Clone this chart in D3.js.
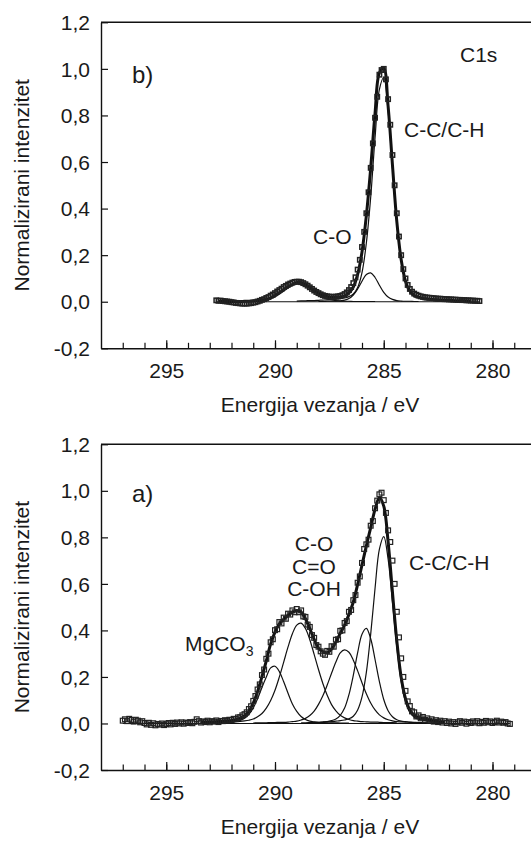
<!DOCTYPE html>
<html><head><meta charset="utf-8">
<script src="https://cdn.jsdelivr.net/npm/d3@7"></script>
<style>
body{margin:0;background:#fff}
svg{display:block}
text{font-family:"Liberation Sans",Arial,Helvetica,sans-serif;fill:#1a1a1a}
</style>
</head><body>
<svg id="chart" width="531" height="842"></svg>
<script>
// ---------- axis values ----------
const xDomain = [298, 278];
const xMinorTicks = [297,296,295,294,293,292,291,290,289,288,287,286,285,284,283,282,281,280,279];
const xTickValues = [295, 290, 285, 280];
const xTickLabels = ["295", "290", "285", "280"];
const yDomain = [-0.2, 1.2];
const yTickValues = [-0.2, 0, 0.2, 0.4, 0.6, 0.8, 1.0, 1.2];
const yTickLabels = ["-0,2", "0,0", "0,2", "0,4", "0,6", "0,8", "1,0", "1,2"];
const xTitle = "Energija vezanja / eV";
const yTitle = "Normalizirani intenzitet";

// ---------- panel b (top): measured points, 0.1 eV step from 292.7 eV ----------
const dataStep = 0.1;
const topDataStart = 292.7;
const topData = [
 .006,.004,.005,.003,.002,.001,.000,-.002,-.003,-.005,
 -.006,-.007,-.008,-.008,-.008,-.007,-.006,-.004,-.002,.001,
 .004,.008,.011,.016,.020,.026,.031,.037,.044,.050,
 .056,.063,.068,.074,.078,.082,.085,.086,.086,.084,
 .080,.075,.069,.062,.055,.048,.042,.037,.032,.028,
 .025,.023,.022,.021,.021,.022,.023,.025,.028,.033,
 .040,.050,.063,.080,.105,.138,.180,.235,.300,.380,
 .470,.575,.680,.790,.880,.975,.995,1.000,.955,.870,
 .760,.630,.500,.380,.280,.200,.140,.100,.072,.055,
 .043,.035,.030,.026,.023,.021,.019,.018,.017,.016,
 .015,.014,.013,.013,.012,.011,.011,.010,.010,.009,
 .009,.008,.008,.007,.007,.006,.006,.005,.005,.004,
 .004,.003];

// fitted components of panel b, 0.2 eV step
const compStep = 0.2;
const topCompNames = ["C-C/C-H", "C-C/C-H 2", "C-O"];
const topCompStarts = [289.0, 288.0, 292.6];
const topCompCC = [
 .003,.004,.004,.005,.005,.006,.007,.008,.009,.011,
 .013,.016,.022,.033,.061,.125,.252,.449,.704,.912,
 .963,.820,.578,.340,.178,.086,.044,.026,.019,.014,
 .012,.010,.008,.007,.007,.006,.005,.004,.004,.004,.003];
const topCompCC2 = [
 .001,.001,.002,.002,.003,.004,.007,.014,.029,.055,
 .088,.117,.124,.104,.071,.040,.020,.010,.005,.003,
 .002,.002,.001,.001];
const topCompCO = [
 .001,.001,.001,.001,.001,.001,.002,.002,.003,.004,
 .006,.010,.017,.025,.037,.050,.063,.074,.080,.078,
 .069,.057,.043,.031,.020,.013,.008,.005,.003,.002,
 .002,.001,.001,.001,.001,.001,.001];

// ---------- panel a (bottom): measured points, 0.1 eV step from 297.0 eV ----------
const bottomDataStart = 297.0;
const bottomData = [
 .012,.018,.010,.020,.015,.008,.016,.012,.005,.010,
 .002,-.004,.003,-.006,.001,-.008,-.002,-.005,.000,-.007,
 -.003,.002,-.004,.003,-.002,.004,.000,.005,-.001,.004,
 .002,.006,.001,.007,.018,.010,.004,.009,.006,.012,
 .005,.010,.008,.013,.006,.011,.010,.014,.012,.016,
 .015,.020,.019,.026,.027,.035,.040,.048,.062,.074,
 .097,.118,.146,.168,.208,.232,.278,.300,.349,.362,
 .401,.405,.436,.430,.455,.450,.472,.468,.486,.478,
 .492,.478,.486,.460,.458,.425,.415,.380,.368,.337,
 .330,.310,.300,.295,.312,.308,.332,.330,.360,.362,
 .398,.400,.432,.440,.480,.488,.530,.552,.605,.632,
 .690,.750,.770,.790,.850,.870,.925,.958,.985,.992,
 .960,.905,.830,.780,.700,.600,.480,.370,.280,.200,
 .140,.095,.075,.052,.048,.030,.035,.022,.028,.015,
 .022,.012,.018,.008,.014,.006,.012,.004,.010,.002,
 .008,.000,.006,-.002,.005,.010,.003,.008,-.001,.006,
 .002,.009,.004,.010,.001,.007,.003,.011,.005,.009,
 .002,.006,.012,.004,.008,.003,.006,.000,-.002];

// fitted components of panel a, 0.2 eV step
const bottomCompNames = ["MgCO3", "C-O / C=O / C-OH", "C-O 2", "C-C/C-H 2", "C-C/C-H"];
const bottomCompStarts = [293.4, 293.4, 291.0, 288.8, 287.8];
const bottomCompMg = [
 .002,.002,.002,.003,.003,.004,.005,.006,.008,.013,
 .022,.039,.067,.106,.155,.200,.239,.246,.223,.179,
 .130,.084,.052,.030,.017,.010,.007,.005,.004,.003,
 .003,.003,.002,.002,.002];
const bottomCompCO = [
 .003,.004,.004,.004,.005,.005,.006,.007,.008,.009,
 .011,.014,.019,.029,.043,.066,.099,.143,.200,.264,
 .329,.386,.423,.431,.408,.360,.297,.232,.172,.121,
 .081,.054,.035,.024,.017,.012,.010,.008,.007,.006,
 .006,.005,.004,.004,.004,.003];
const bottomCompCO2 = [
 .002,.003,.003,.003,.004,.004,.005,.005,.006,.008,
 .010,.015,.022,.034,.053,.082,.119,.165,.216,.264,
 .303,.316,.306,.272,.226,.175,.128,.088,.058,.037,
 .024,.016,.011,.008,.007,.006,.005,.004,.004,.003,
 .003,.003,.002];
const bottomCompCC2 = [
 .003,.003,.004,.005,.005,.007,.008,.012,.019,.035,
 .066,.124,.207,.304,.384,.409,.364,.275,.180,.103,
 .055,.029,.016,.010,.008,.006,.005,.004,.004,.003];
const bottomCompCC = [
 .006,.007,.008,.010,.012,.015,.020,.031,.058,.114,
 .220,.384,.581,.749,.803,.707,.521,.329,.182,.093,
 .047,.027,.018,.014,.011,.009,.008,.007,.006];

// ---------- helpers ----------
function series(start, step, values) {
  return values.map((v, i) => ({ e: +(start - i * step).toFixed(2), v }));
}
function envelope(comps) {
  const m = new Map();
  comps.forEach(c => c.forEach(p => {
    const k = Math.round(p.e * 10);
    m.set(k, (m.get(k) || 0) + p.v);
  }));
  return Array.from(m, ([k, v]) => ({ e: k / 10, v })).sort((a, b) => b.e - a.e);
}

const svg = d3.select("#chart");
svg.append("rect").attr("width", 531).attr("height", 842).attr("fill", "#fff");
const FONT = "'Liberation Sans', Arial, Helvetica, sans-serif";
const x = d3.scaleLinear().domain(xDomain).range([101, 536]);

function drawPanel(cfg) {
  const y = d3.scaleLinear().domain(yDomain).range(cfg.yRange);
  const g = svg.append("g");
  const yBottom = cfg.yRange[0], yTop = cfg.yRange[1];

  const comps = cfg.comps.map((vals, i) => series(cfg.compStarts[i], compStep, vals));
  const env = envelope(comps);
  const data = series(cfg.dataStart, dataStep, cfg.data);

  const line = d3.line().x(d => x(d.e)).y(d => y(d.v)).curve(d3.curveCatmullRom.alpha(0.5));

  // baseline
  g.append("path")
    .attr("d", line([{ e: data[0].e, v: 0 }, { e: data[data.length - 1].e, v: 0 }]))
    .attr("fill", "none").attr("stroke", "#111").attr("stroke-width", 1.1);

  // components
  g.selectAll("path.comp").data(comps).join("path")
    .attr("class", "comp")
    .attr("d", line)
    .attr("fill", "none").attr("stroke", "#111").attr("stroke-width", 1.2);

  // fit envelope
  g.append("path").attr("d", line(env))
    .attr("fill", "none").attr("stroke", "#111").attr("stroke-width", 3);

  // measured points (open squares)
  const s = cfg.square;
  g.selectAll("rect.pt").data(data).join("rect")
    .attr("class", "pt")
    .attr("x", d => x(d.e) - s / 2).attr("y", d => y(d.v) - s / 2)
    .attr("width", s).attr("height", s)
    .attr("fill", "none").attr("stroke", "#222").attr("stroke-width", cfg.squareStroke);

  // axes
  const minor = g.append("g").attr("transform", `translate(0,${yBottom})`)
    .call(d3.axisBottom(x).tickValues(xMinorTicks).tickSizeInner(-5.5).tickSizeOuter(0).tickFormat(""));
  minor.select(".domain").attr("stroke", "#111").attr("stroke-width", 1.4);
  minor.selectAll(".tick line").attr("stroke", "#111").attr("stroke-width", 1.2);

  const major = g.append("g").attr("transform", `translate(0,${yBottom})`)
    .call(d3.axisBottom(x).tickValues(xTickValues).tickSizeInner(-8).tickSizeOuter(0)
      .tickPadding(15).tickFormat((d, i) => xTickLabels[i]));
  major.select(".domain").remove();
  major.selectAll(".tick line").attr("stroke", "#111").attr("stroke-width", 1.2);
  major.attr("font-size", 21).attr("font-family", FONT);
  major.selectAll("text").attr("fill", "#1a1a1a");

  const left = g.append("g").attr("transform", "translate(101,0)")
    .call(d3.axisLeft(y).tickValues(yTickValues).tickSizeInner(-7).tickSizeOuter(0)
      .tickPadding(11).tickFormat((d, i) => yTickLabels[i]));
  left.select(".domain").attr("stroke", "#111").attr("stroke-width", 1.4);
  left.selectAll(".tick line").attr("stroke", "#111").attr("stroke-width", 1.2);
  left.attr("font-size", 21).attr("font-family", FONT);
  left.selectAll("text").attr("fill", "#1a1a1a").attr("dy", "0.34em");

  // top frame line
  g.append("line").attr("x1", 101).attr("x2", 536).attr("y1", yTop).attr("y2", yTop)
    .attr("stroke", "#111").attr("stroke-width", 1.4);

  // titles
  g.append("text").attr("x", 320).attr("y", yBottom + 64).attr("text-anchor", "middle")
    .attr("font-size", 21).text(xTitle);
  g.append("text").attr("transform", `translate(28.5,${(yBottom + yTop) / 2}) rotate(-90)`)
    .attr("text-anchor", "middle").attr("font-size", 21).text(yTitle);

  cfg.annotate(g, yTop);
}

drawPanel({
  yRange: [348.3, 22.3],
  square: 4.4, squareStroke: 1.5,
  data: topData, dataStart: topDataStart,
  comps: [topCompCC, topCompCC2, topCompCO], compStarts: topCompStarts,
  annotate: (g, t) => {
    g.append("text").attr("x", 132).attr("y", t + 61).attr("font-size", 24).text("b)");
    g.append("text").attr("x", 460).attr("y", t + 40).attr("font-size", 21).text("C1s");
    g.append("text").attr("x", 404).attr("y", t + 115).attr("font-size", 21).text("C-C/C-H");
    g.append("text").attr("x", 313).attr("y", t + 222).attr("font-size", 21).text("C-O");
  }
});

drawPanel({
  yRange: [770, 444.3],
  square: 4.8, squareStroke: 1.2,
  data: bottomData, dataStart: bottomDataStart,
  comps: [bottomCompMg, bottomCompCO, bottomCompCO2, bottomCompCC2, bottomCompCC], compStarts: bottomCompStarts,
  annotate: (g, t) => {
    g.append("text").attr("x", 132).attr("y", t + 58).attr("font-size", 24).text("a)");
    g.append("text").attr("x", 409).attr("y", t + 126).attr("font-size", 21).text("C-C/C-H");
    ["C-O", "C=O", "C-OH"].forEach((s, i) =>
      g.append("text").attr("x", 314).attr("y", t + 107 + i * 22.3).attr("text-anchor", "middle")
        .attr("font-size", 21).text(s));
    const mg = g.append("text").attr("x", 185).attr("y", t + 207).attr("font-size", 21);
    mg.append("tspan").text("MgCO");
    mg.append("tspan").attr("font-size", 14).attr("dy", 5).text("3");
  }
});
</script>
</body></html>
